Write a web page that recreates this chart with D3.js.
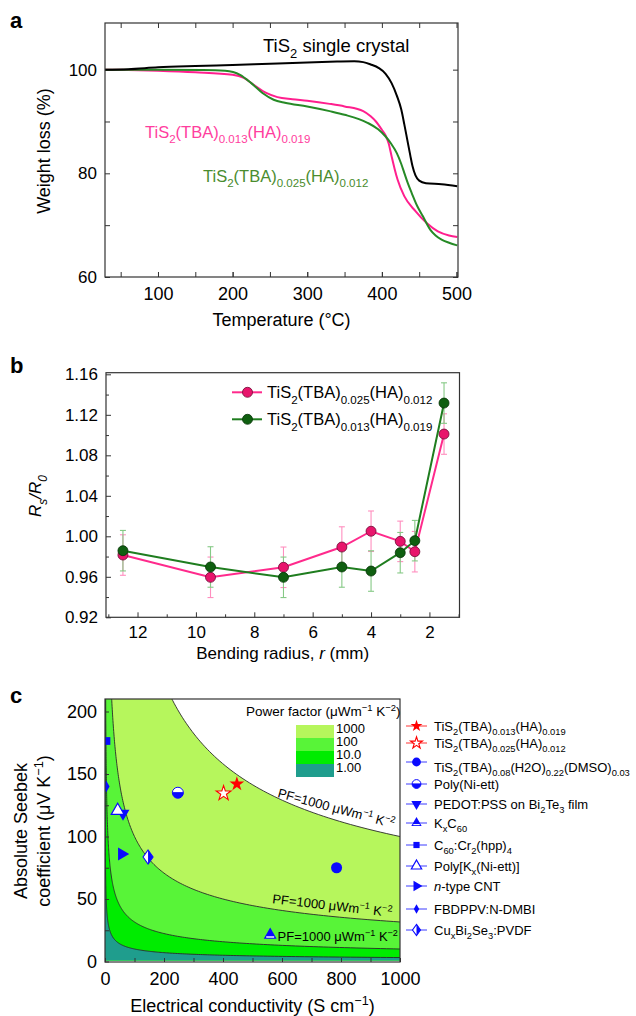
<!DOCTYPE html>
<html><head><meta charset="utf-8">
<script src="https://cdn.jsdelivr.net/npm/d3@7"></script>
<style>
body{margin:0;background:#fff}
svg{display:block}
text{font-family:"Liberation Sans",Arial,Helvetica,sans-serif}
</style>
</head><body>
<svg id="chart" width="636" height="1016"></svg>
<script>
// ---------------- DATA ----------------
// Panel a: TGA curves (temperature °C, weight %)
const tSingle = [29,60,100,150,200,250,300,340,363,375,385,396,405,413,420,426,430,434,438,441,445,450,459,480,501];
const wSingle = [100,100.1,100.45,100.7,100.9,101.15,101.4,101.55,101.6,101.45,101.0,100.3,99.2,97.4,95.0,92.3,89.5,86.5,83.5,81.4,79.6,78.6,78.1,77.9,77.5];
const tPink = [29,60,100,150,200,215,230,245,260,280,300,330,350,375,385,392,400,405,409,413,417,421,430,445,460,475,490,501];
const wPink = [100,99.95,99.8,99.5,99.0,98.4,96.9,95.5,94.7,94.3,94.0,93.4,92.9,92.0,91.0,90.0,88.4,87.3,85.8,83.3,80.9,78.8,75.6,72.7,70.4,68.8,68.0,67.7];
const tGreen = [29,100,160,190,210,225,240,255,270,300,330,350,380,395,405,412,420,426,430,435,440,447,455,465,472,480,490,501];
const wGreen = [100,100,99.95,99.8,99.0,97.4,95.5,94.2,93.6,92.9,92.0,91.3,89.8,88.5,87.1,85.8,83.9,81.8,80.1,78.0,76.2,73.8,71.7,69.1,68.0,67.2,66.6,66.1];
const aXTicks = [100,200,300,400,500];
const aYTicks = [60,80,100];

// Panel b: bending test
const bendRadius = [12.5,9.5,7,5,4,3,2.5,1.5];
const rPink  = [0.9815,0.9595,0.9694,0.9894,1.005,0.995,0.9848,1.101];
const ePink  = [0.020,0.020,0.020,0.020,0.020,0.020,0.020,0.020];
const rGreen = [0.9858,0.9697,0.9595,0.9697,0.9657,0.9838,0.9957,1.1316];
const eGreen = [0.020,0.020,0.020,0.020,0.020,0.020,0.020,0.020];
const bXTicks = [2,4,6,8,10,12];
const bYTicks = [0.92,0.96,1.00,1.04,1.08,1.12,1.16];

// Panel c: Seebeck vs conductivity
const pfLevels = [1000,100,10,1];
const pfLevelLabels = ["1000","100","10.0","1.00"];
const materials = [
  "TiS_{2}(TBA)_{0.013}(HA)_{0.019}",
  "TiS_{2}(TBA)_{0.025}(HA)_{0.012}",
  "TiS_{2}(TBA)_{0.08}(H2O)_{0.22}(DMSO)_{0.03}",
  "Poly(Ni-ett)",
  "PEDOT:PSS on Bi_{2}Te_{3} film",
  "K_{x}C_{60}",
  "C_{60}:Cr_{2}(hpp)_{4}",
  "Poly[K_{x}(Ni-ett)]",
  "~{n}-type CNT",
  "FBDPPV:N-DMBI",
  "Cu_{x}Bi_{2}Se_{3}:PVDF"
];
const conductivity = [447,402,785,247,61,560,5,43,57,4,146];
const seebeck = [142,134.5,75,135,118.5,21.2,176.4,120.6,86,140,83.6];
const cXTicks = [0,200,400,600,800,1000];
const cYTicks = [0,50,100,150,200];

// ---------------- HELPERS ----------------
const svg = d3.select("#chart");
function rich(t, str, fs, subScale){
  const sc = subScale||0.7;
  const re = /(_~\{[^}]*\}|_\{[^}]*\}|\^\{[^}]*\}|~\{[^}]*\}|[^_^~]+)/g;
  let cur = 0;
  (str.match(re)||[]).forEach(tok=>{
    let mode="n", it=false, s=tok;
    if(tok.startsWith("_~{")){mode="sub";it=true;s=tok.slice(3,-1);}
    else if(tok.startsWith("_{")){mode="sub";s=tok.slice(2,-1);}
    else if(tok.startsWith("^{")){mode="sup";s=tok.slice(2,-1);}
    else if(tok.startsWith("~{")){it=true;s=tok.slice(2,-1);}
    const target = mode==="sub"? fs*0.33 : mode==="sup"? -fs*0.40 : 0;
    const ts = t.append("tspan").text(s);
    if(Math.abs(target-cur)>1e-6) ts.attr("dy", (target-cur).toFixed(2));
    if(mode!=="n") ts.attr("font-size", (fs*sc).toFixed(2));
    if(it) ts.attr("font-style","italic");
    cur = target;
  });
  return t;
}
function label(g,x,y,str,fs,o={}){
  const t = g.append("text").attr("x",x).attr("y",y).attr("font-size",fs)
    .attr("fill",o.fill||"#000").attr("text-anchor",o.anchor||"start");
  if(o.rotate!=null) t.attr("transform",`rotate(${o.rotate},${x},${y})`);
  if(o.weight) t.attr("font-weight",o.weight);
  if(o.italic) t.attr("font-style","italic");
  return rich(t,str,fs,o.sub);
}
function styleAxis(g,fs){
  g.select(".domain").remove();
  g.selectAll(".tick line").attr("stroke","#333").attr("stroke-width",1);
  g.selectAll(".tick text").attr("font-size",fs).attr("fill","#000")
   .attr("font-family",'"Liberation Sans",Arial,Helvetica,sans-serif');
}
function frame(g,x0,x1,y0,y1){
  g.append("rect").attr("x",x0).attr("y",y0).attr("width",x1-x0).attr("height",y1-y0)
   .attr("fill","none").attr("stroke","#333").attr("stroke-width",1.2);
}
const zipPts = (xs,ys)=>xs.map((x,i)=>[x,ys[i]]);

// ---------------- PANEL A ----------------
{
  const g = svg.append("g");
  const L=105,R=458,T=23,B=277;
  const x = d3.scaleLinear().domain([29,502]).range([L,R]);
  const y = d3.scaleLinear().domain([60,109]).range([B,T]);
  const minorX = d3.range(50,501,50);
  const minorY = [70,90];
  styleAxis(g.append("g").attr("transform",`translate(0,${B})`).call(d3.axisBottom(x).tickValues(minorX).tickSize(-5).tickFormat("")),18);
  styleAxis(g.append("g").attr("transform",`translate(0,${B})`).call(d3.axisBottom(x).tickValues(aXTicks).tickSize(-5).tickPadding(10).tickFormat(d3.format("d"))),18);
  styleAxis(g.append("g").attr("transform",`translate(0,${T})`).call(d3.axisTop(x).tickValues(minorX).tickSize(-5).tickFormat("")),18);
  styleAxis(g.append("g").attr("transform",`translate(${L},0)`).call(d3.axisLeft(y).tickValues(aYTicks).tickSize(-5).tickPadding(8).tickFormat(d3.format("d"))),17);
  styleAxis(g.append("g").attr("transform",`translate(${L},0)`).call(d3.axisLeft(y).tickValues(minorY).tickSize(-5).tickFormat("")),17);
  styleAxis(g.append("g").attr("transform",`translate(${R},0)`).call(d3.axisRight(y).tickValues(aYTicks.concat(minorY)).tickSize(-5).tickFormat("")),17);
  const line = d3.line().x(d=>x(d[0])).y(d=>y(d[1])).curve(d3.curveMonotoneX);
  g.append("path").datum(zipPts(tPink,wPink)).attr("d",line).attr("fill","none").attr("stroke","#ff1f8e").attr("stroke-width",2);
  g.append("path").datum(zipPts(tGreen,wGreen)).attr("d",line).attr("fill","none").attr("stroke","#268a26").attr("stroke-width",2);
  g.append("path").datum(zipPts(tSingle,wSingle)).attr("d",line).attr("fill","none").attr("stroke","#000").attr("stroke-width",2);
  frame(g,L,R,T,B);
  label(g,263,52,"TiS_{2} single crystal",18.5);
  label(g,145,138,"TiS_{2}(TBA)_{0.013}(HA)_{0.019}",16.5,{fill:"#ff3d9e"});
  label(g,203,182,"TiS_{2}(TBA)_{0.025}(HA)_{0.012}",16.5,{fill:"#4a8c2e"});
  label(g,(L+R)/2,326,"Temperature (°C)",18,{anchor:"middle"});
  label(g,50,151,"Weight loss (%)",18,{anchor:"middle",rotate:-90});
  label(g,10,28,"a",22,{weight:"bold"});
}

// ---------------- PANEL B ----------------
{
  const g = svg.append("g");
  const L=106,R=459.5,T=372.7,B=617.3;
  const x = d3.scaleLinear().domain([13.08,0.97]).range([L,R]);
  const y = d3.scaleLinear().domain([0.92,1.1616]).range([B,T]);
  const minorX = [1,3,5,7,9,11,13];
  const minorY = [0.94,0.98,1.02,1.06,1.10,1.14];
  styleAxis(g.append("g").attr("transform",`translate(0,${B})`).call(d3.axisBottom(x).tickValues(minorX).tickSize(-3).tickFormat("")),16);
  styleAxis(g.append("g").attr("transform",`translate(0,${B})`).call(d3.axisBottom(x).tickValues(bXTicks).tickSize(-5).tickPadding(9).tickFormat(d3.format("d"))),17);
  styleAxis(g.append("g").attr("transform",`translate(${L},0)`).call(d3.axisLeft(y).tickValues(bYTicks).tickSize(-5).tickPadding(8).tickFormat(d3.format(".2f"))),17);
  styleAxis(g.append("g").attr("transform",`translate(${L},0)`).call(d3.axisLeft(y).tickValues(minorY).tickSize(-3).tickFormat("")),17);
  const series = [
    {v:rPink,e:ePink,line:"#ff2a8c",fill:"#e8156c",stroke:"#6d0a33",err:"#ff8fbf"},
    {v:rGreen,e:eGreen,line:"#1f7d1f",fill:"#0f5f10",stroke:"#063306",err:"#86c986"}
  ];
  series.forEach(s=>{
    const eg = g.append("g").attr("stroke",s.err).attr("stroke-width",1.1);
    bendRadius.forEach((r,i)=>{
      const xx=x(r), y0=y(s.v[i]-s.e[i]), y1=y(s.v[i]+s.e[i]);
      eg.append("line").attr("x1",xx).attr("x2",xx).attr("y1",y0).attr("y2",y1);
      eg.append("line").attr("x1",xx-3).attr("x2",xx+3).attr("y1",y0).attr("y2",y0);
      eg.append("line").attr("x1",xx-3).attr("x2",xx+3).attr("y1",y1).attr("y2",y1);
    });
  });
  series.forEach(s=>{
    const line = d3.line().x((d,i)=>x(bendRadius[i])).y(d=>y(d));
    g.append("path").datum(s.v).attr("d",line).attr("fill","none").attr("stroke",s.line).attr("stroke-width",2);
    g.selectAll(null).data(s.v).enter().append("circle")
      .attr("cx",(d,i)=>x(bendRadius[i])).attr("cy",d=>y(d)).attr("r",5)
      .attr("fill",s.fill).attr("stroke",s.stroke).attr("stroke-width",0.8);
  });
  frame(g,L,R,T,B);
  const legTexts = ["TiS_{2}(TBA)_{0.025}(HA)_{0.012}","TiS_{2}(TBA)_{0.013}(HA)_{0.019}"];
  [392.3,419.3].forEach((yy,i)=>{
    const s=series[i];
    g.append("line").attr("x1",232).attr("x2",262).attr("y1",yy).attr("y2",yy).attr("stroke",s.line).attr("stroke-width",2);
    g.append("circle").attr("cx",247.5).attr("cy",yy).attr("r",5).attr("fill",s.fill).attr("stroke",s.stroke).attr("stroke-width",0.8);
    label(g,267,yy+6,legTexts[i],16.5);
  });
  label(g,(L+R)/2,659,"Bending radius, ~{r} (mm)",17,{anchor:"middle"});
  const yl = g.append("text").attr("x",41).attr("y",496).attr("font-size",17).attr("text-anchor","middle")
     .attr("transform","rotate(-90,41,496)").attr("font-style","italic");
  rich(yl,"R_{s}/R_{0}",17);
  label(g,10,373,"b",22,{weight:"bold"});
}

// ---------------- PANEL C ----------------
{
  const g = svg.append("g");
  const L=105,R=400,T=699,B=962;
  const x = d3.scaleLinear().domain([0,1000]).range([L,R]);
  const y = d3.scaleLinear().domain([0,210]).range([961.5,T]);
  const bandColors = ["#b6f65c","#58f438","#00ec00","#1f9d8d"];
  g.append("clipPath").attr("id","clipC").append("rect").attr("x",L).attr("y",T).attr("width",R-L).attr("height",B-T);
  const plot = g.append("g").attr("clip-path","url(#clipC)");
  plot.append("rect").attr("x",L).attr("y",T).attr("width",R-L).attr("height",B-T).attr("fill","#fff");
  const sig = d3.range(0,601).map(i=>Math.pow(10,-3+6*i/600));
  const sOf = (pf,s)=>Math.min(Math.sqrt(pf*1e4/s),1000); // PF = S^2*sigma*1e-4 (µW m^-1 K^-2)
  pfLevels.forEach((pf,k)=>{
    const area = d3.area().x(d=>x(d)).y0(y(0)-1).y1(d=>y(sOf(pf,d)));
    plot.append("path").datum(sig).attr("d",area).attr("fill",bandColors[k]);
  });
  pfLevels.forEach(pf=>{
    const ln = d3.line().x(d=>x(d)).y(d=>y(sOf(pf,d)));
    plot.append("path").datum(sig).attr("d",ln).attr("fill","none").attr("stroke","#2a2a2a").attr("stroke-width",0.9);
  });
  styleAxis(g.append("g").attr("transform",`translate(0,${B})`).call(d3.axisBottom(x).tickValues(d3.range(100,1000,200)).tickSize(-4).tickFormat("")),18);
  styleAxis(g.append("g").attr("transform",`translate(0,${B})`).call(d3.axisBottom(x).tickValues(cXTicks).tickSize(-4).tickPadding(10).tickFormat(d3.format("d"))),18);
  styleAxis(g.append("g").attr("transform",`translate(${L},0)`).call(d3.axisLeft(y).tickValues(d3.range(25,210,50)).tickSize(-4).tickFormat("")),18);
  styleAxis(g.append("g").attr("transform",`translate(${L},0)`).call(d3.axisLeft(y).tickValues(cYTicks).tickSize(-4).tickPadding(8).tickFormat(d3.format("d"))),18);
  // contour labels
  label(g,x(583),y(131.6),"PF=1000 μWm^{−1} K^{−2}",13,{rotate:15});
  label(g,x(566),y(46.6),"PF=1000 μWm^{−1} K^{−2}",13,{rotate:6.5});
  label(g,x(585),y(16.6),"PF=1000 μWm^{−1} K^{−2}",13);
  const BLUE="#0a0aff", RED="#ff0000";
  function marker(gg,type,cx,cy,sc){
    const m = gg.append("g").attr("transform",`translate(${cx},${cy})`);
    const sym=(t,size)=>d3.symbol().type(t).size(size*sc*sc)();
    if(type===0){m.append("path").attr("d",sym(d3.symbolStar,68)).attr("fill",RED);}
    else if(type===1){m.append("path").attr("d",sym(d3.symbolStar,68)).attr("fill","#fff").attr("stroke",RED).attr("stroke-width",1.1);}
    else if(type===2){m.append("circle").attr("r",5.5*sc).attr("fill",BLUE);}
    else if(type===3){
      m.append("circle").attr("r",5.5*sc).attr("fill","#fff").attr("stroke",BLUE).attr("stroke-width",1);
      m.append("path").attr("d",d3.arc()({innerRadius:0,outerRadius:5.5*sc,startAngle:Math.PI/2,endAngle:Math.PI*1.5})).attr("fill",BLUE);
      m.append("line").attr("x1",-5.5*sc).attr("x2",5.5*sc).attr("stroke",BLUE).attr("stroke-width",1.2);
    }
    else if(type===4){m.append("path").attr("d",sym(d3.symbolTriangle,72)).attr("transform","rotate(180)").attr("fill",BLUE);}
    else if(type===5){
      m.append("path").attr("d",sym(d3.symbolTriangle,72)).attr("fill",BLUE);
      m.append("line").attr("x1",-4*sc).attr("x2",4*sc).attr("y1",2*sc).attr("y2",2*sc).attr("stroke","#fff").attr("stroke-width",1.4*sc);
    }
    else if(type===6){m.append("path").attr("d",sym(d3.symbolSquare,60)).attr("fill",BLUE);}
    else if(type===7){m.append("path").attr("d",sym(d3.symbolTriangle,72)).attr("fill","#fff").attr("stroke",BLUE).attr("stroke-width",1.2);}
    else if(type===8){m.append("path").attr("d",sym(d3.symbolTriangle,72)).attr("transform","rotate(90)").attr("fill",BLUE);}
    else if(type===9){m.append("path").attr("d",sym(d3.symbolDiamond,40)).attr("fill",BLUE);}
    else if(type===10){
      const h=7*sc, w=5*sc;
      m.append("path").attr("d",`M0,${-h}L${w},0L0,${h}L${-w},0Z`).attr("fill","#fff").attr("stroke",BLUE).attr("stroke-width",1.1);
      m.append("path").attr("d",`M0,${-h}L${w},0L0,${h}Z`).attr("fill",BLUE);
    }
  }
  const mg = g.append("g").attr("clip-path","url(#clipC)");
  materials.forEach((name,i)=>marker(mg,i,x(conductivity[i]),y(seebeck[i]),1));
  frame(g,L,R,T,B);
  // power factor legend
  label(g,246,716,"Power factor (μWm^{−1} K^{−2})",13.5);
  pfLevelLabels.forEach((lab,k)=>{
    g.append("rect").attr("x",296).attr("y",725+k*13).attr("width",38).attr("height",13).attr("fill",bandColors[k]);
    label(g,336,733+k*13,lab,13);
  });
  // material legend
  const legY = [726,743,762,784,804,823,845,866,886,909,930];
  materials.forEach((name,i)=>{
    const col = i<2?RED:BLUE;
    g.append("line").attr("x1",406).attr("x2",427).attr("y1",legY[i]).attr("y2",legY[i]).attr("stroke",col).attr("stroke-width",0.8);
    marker(g,i,416.5,legY[i],0.8);
    label(g,434,legY[i]+(i===2?9.5:5),name,13,{sub:0.72});
  });
  label(g,(L+R)/2,1012,"Electrical conductivity (S cm^{−1})",18,{anchor:"middle"});
  label(g,27,831,"Absolute Seebek",18,{anchor:"middle",rotate:-90});
  label(g,50,831,"coefficient (μV K^{−1})",18,{anchor:"middle",rotate:-90});
  label(g,10,703,"c",22,{weight:"bold"});
}
</script>
</body></html>
